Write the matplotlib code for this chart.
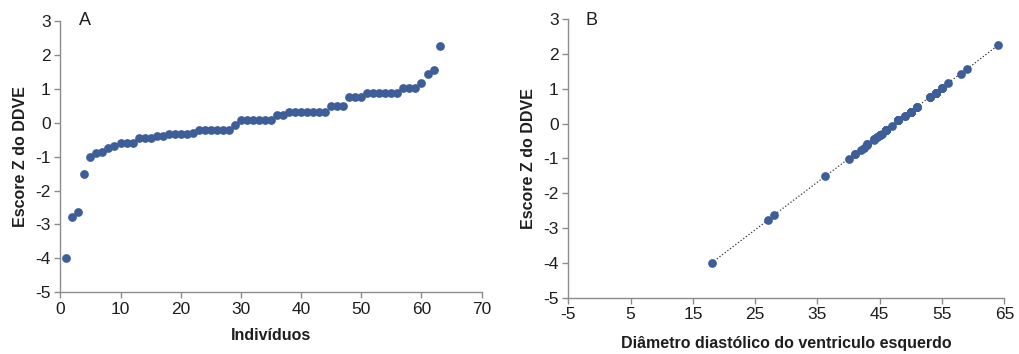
import matplotlib
matplotlib.use("Agg")
import matplotlib.pyplot as plt

plt.rcParams['font.family'] = ['Liberation Sans', 'DejaVu Sans']
plt.rcParams['axes.unicode_minus'] = False

individuals = list(range(1, 64))
zscore = [-4.00, -2.78, -2.63, -1.52, -1.01, -0.88, -0.87, -0.75, -0.69, -0.61, -0.60, -0.60,
          -0.46, -0.45, -0.45, -0.40, -0.40, -0.33, -0.33, -0.33, -0.33, -0.30,
          -0.20, -0.20, -0.20, -0.20, -0.20, -0.20, -0.07,
          0.09, 0.09, 0.09, 0.09, 0.09, 0.09, 0.22, 0.22,
          0.33, 0.33, 0.33, 0.33, 0.33, 0.33, 0.33, 0.48, 0.48, 0.48,
          0.76, 0.76, 0.76, 0.89, 0.89, 0.89, 0.89, 0.89, 0.89,
          1.02, 1.02, 1.02, 1.17, 1.43, 1.56, 2.25]
diameter = [18, 27, 28, 36.2, 40, 41, 41, 42, 42.4, 43, 43, 43,
            44, 44, 44, 44.5, 44.5, 45, 45, 45, 45, 45.3,
            46, 46, 46, 46, 46, 46, 47,
            48, 48, 48, 48, 48, 48, 49, 49,
            50, 50, 50, 50, 50, 50, 50, 51, 51, 51,
            53, 53, 53, 54, 54, 54, 54, 54, 54,
            55, 55, 55, 56, 58, 59, 64]

xticks_a = [0, 10, 20, 30, 40, 50, 60, 70]
xticks_b = [-5, 5, 15, 25, 35, 45, 55, 65]
yticks = [-5, -4, -3, -2, -1, 0, 1, 2, 3]

color = '#3D5E99'
spine_c = '#8C8C8C'
text_c = '#1E1E1E'

fig = plt.figure(figsize=(10.19, 3.54), dpi=100)
axA = fig.add_axes([0.0592, 0.1743, 0.4135, 0.7664])
axB = fig.add_axes([0.5577, 0.1590, 0.4279, 0.7873])

def style(ax):
    for s in ['top', 'right']:
        ax.spines[s].set_visible(False)
    for s in ['left', 'bottom']:
        ax.spines[s].set_color(spine_c)
        ax.spines[s].set_linewidth(1.0)
    ax.tick_params(axis='both', direction='out', length=4, width=1.0,
                   color=spine_c, labelsize=12.5, labelcolor=text_c, pad=3)
    ax.set_yticks(yticks)
    ax.set_yticklabels([str(v) for v in yticks])
    ax.set_ylim(-5, 3)
    ax.set_ylabel('Escore Z do DDVE', fontsize=11.5, fontweight='bold', color=text_c, labelpad=5)

style(axA)
axA.plot(individuals, zscore, 'o', color=color, markersize=6.3, markeredgewidth=0)
axA.set_xlim(0, 70)
axA.set_xticks(xticks_a)
axA.set_xlabel('Indivíduos', fontsize=11.5, fontweight='bold', color=text_c, labelpad=8)
axA.text(0.059, 1.0, 'A', transform=axA.transAxes, fontsize=13, color=text_c, va='center', ha='center')

style(axB)
axB.plot(diameter, zscore, ':', color='#333333', linewidth=0.9, zorder=1)
axB.plot(diameter, zscore, 'o', color=color, markersize=6.3, markeredgewidth=0, zorder=2)
axB.set_xlim(-5, 65)
axB.set_xticks(xticks_b)
axB.set_xlabel('Diâmetro diastólico do ventriculo esquerdo', fontsize=11.5, fontweight='bold',
               color=text_c, labelpad=10)
axB.text(0.054, 0.993, 'B', transform=axB.transAxes, fontsize=13, color=text_c, va='center', ha='center')

fig.savefig('out.png', dpi=100, facecolor='white')
